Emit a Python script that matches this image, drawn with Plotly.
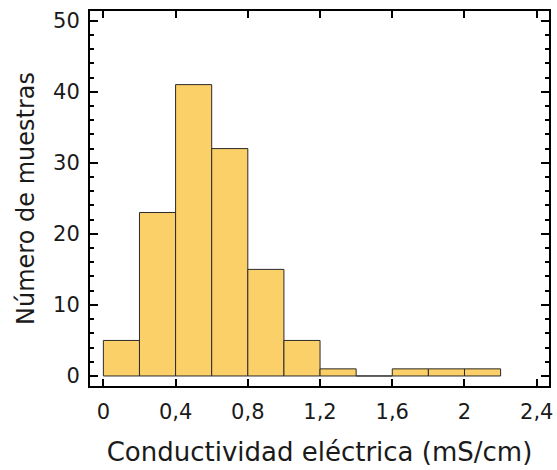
import plotly.graph_objects as go

bin_edges = [0.0, 0.2, 0.4, 0.6, 0.8, 1.0, 1.2, 1.4, 1.6, 1.8, 2.0, 2.2]
counts = [5, 23, 41, 32, 15, 5, 1, 0, 1, 1, 1]
x_ticks = [0, 0.4, 0.8, 1.2, 1.6, 2.0, 2.4]
x_tick_labels = ["0", "0,4", "0,8", "1,2", "1,6", "2", "2,4"]
y_ticks = [0, 10, 20, 30, 40, 50]

centers = [(bin_edges[i] + bin_edges[i + 1]) / 2 for i in range(len(counts))]
widths = [bin_edges[i + 1] - bin_edges[i] for i in range(len(counts))]

fig = go.Figure()
fig.add_trace(go.Bar(
    x=centers, y=counts, width=widths,
    marker=dict(color="#FCD068", line=dict(color="#2a2a2a", width=1)),
))

font_family = "'DejaVu Sans', sans-serif"
fig.update_layout(
    width=557, height=470,
    margin=dict(l=90, r=8, t=11, b=84),
    plot_bgcolor="white", paper_bgcolor="white",
    showlegend=False,
    font=dict(family=font_family, size=21, color="#1a1a1a"),
    xaxis=dict(
        range=[-0.074, 2.468], automargin=False,
        tickmode="array", tickvals=x_ticks, ticktext=x_tick_labels,
        ticks="inside", ticklen=7, tickwidth=2, tickcolor="black",
        showline=True, linecolor="black", linewidth=2, mirror="ticks",
        showgrid=False, zeroline=False,
        title=dict(text="Conductividad eléctrica (mS/cm)", font=dict(size=26), standoff=20),
        ticklabelstandoff=6,
    ),
    yaxis=dict(
        range=[-1.41, 51.36], automargin=False,
        tickmode="array", tickvals=y_ticks,
        ticks="inside", ticklen=8, tickwidth=2, tickcolor="black",
        minor=dict(ticks="inside", dtick=2, ticklen=4, tickwidth=2, tickcolor="black"),
        showline=True, linecolor="black", linewidth=2, mirror="ticks",
        showgrid=False, zeroline=False,
        title=dict(text="Número de muestras", font=dict(size=24), standoff=12),
        ticklabelstandoff=4,
    ),
)

fig.write_html("out.html", config={"displayModeBar": False},
               post_script="document.body.style.margin='0';")
